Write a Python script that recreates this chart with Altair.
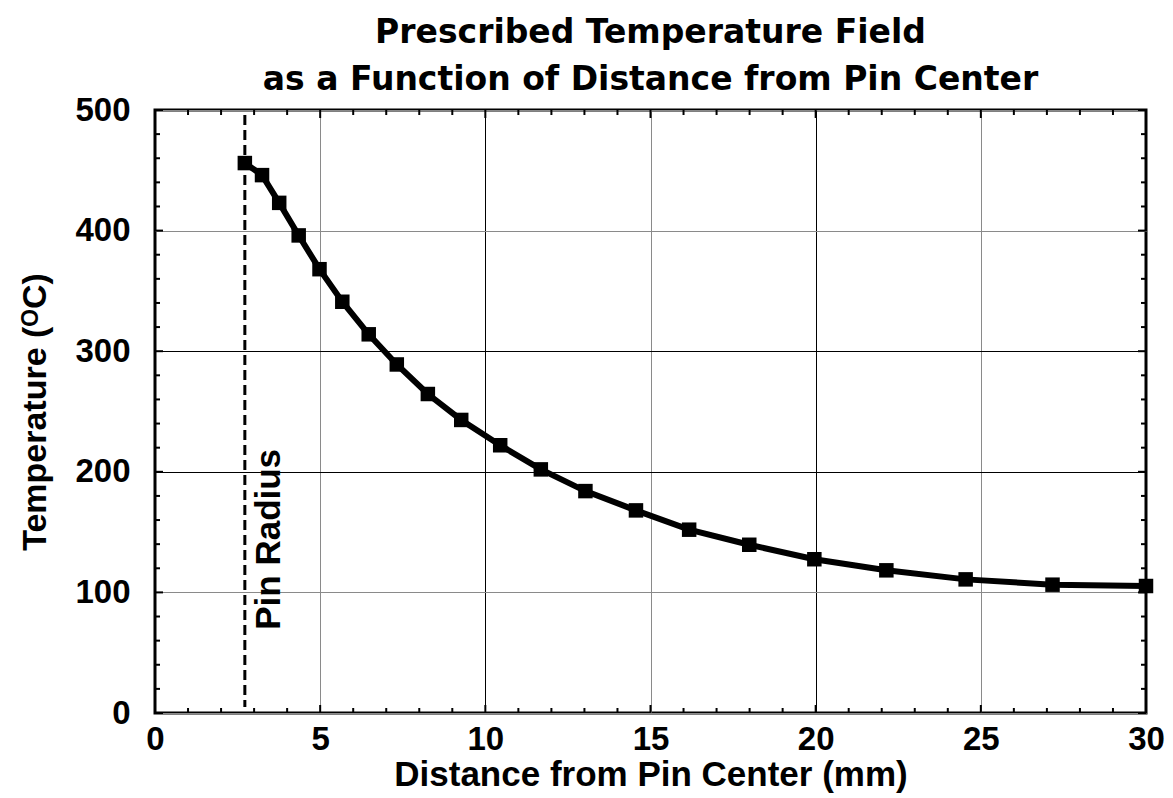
import altair as alt
import pandas as pd

# ---- data ----
distance_mm = [2.72, 3.24, 3.76, 4.35, 4.98, 5.67, 6.47, 7.32, 8.26, 9.27, 10.45,
               11.68, 13.03, 14.56, 16.17, 17.99, 19.96, 22.14, 24.54, 27.17, 30.0]
temperature_c = [456, 446, 423, 396, 368, 341, 314, 289, 264.5, 243, 222,
                 202, 184, 168, 152, 139.5, 127.5, 118.3, 110.8, 106.4, 105.3]
pin_radius_mm = [2.72]
pin_label_x = [3.45]
pin_label_y = [144]
pin_label_text = ["Pin Radius"]

x_major = [0, 5, 10, 15, 20, 25, 30]
y_major = [0, 100, 200, 300, 400, 500]
x_minor = [v for v in range(0, 31) if v % 5]
y_minor = [v for v in range(0, 501, 20) if v % 100]

W, H = 991, 603
FONT = "Liberation Sans"

xs = alt.Scale(domain=[0, 30], nice=False, zero=False)
ys = alt.Scale(domain=[0, 500], nice=False, zero=False)

x_grid_color = {"condition": {"test": "datum.value % 10 === 0", "value": "black"}, "value": "#8a8a8a"}
y_grid_color = {"condition": {"test": "datum.value === 200 || datum.value === 300", "value": "black"}, "value": "#8a8a8a"}

xaxis = alt.Axis(values=x_major, format="d", grid=True, gridColor=x_grid_color, gridWidth=1,
                 ticks=False, domain=False,
                 labelFont=FONT, labelFontWeight="bold", labelFontSize=33, labelColor="black",
                 labelPadding=10, labelFlush=False,
                 title="Distance from Pin Center (mm)", titleFont=FONT, titleFontSize=35,
                 titleFontWeight="bold", titleColor="black", titlePadding=1)
yaxis = alt.Axis(values=y_major, format="d", grid=True, gridColor=y_grid_color, gridWidth=1,
                 ticks=False, domain=False,
                 labelFont=FONT, labelFontWeight="bold", labelFontSize=33, labelColor="black",
                 labelPadding=25, labelFlush=False,
                 title="Temperature (ᴼC)", titleFont=FONT, titleFontSize=34,
                 titleFontWeight="bold", titleColor="black", titlePadding=22)

curve = pd.DataFrame({"d": distance_mm, "t": temperature_c})

line = alt.Chart(curve).mark_line(color="black", strokeWidth=6).encode(
    x=alt.X("d:Q", scale=xs, axis=xaxis),
    y=alt.Y("t:Q", scale=ys, axis=yaxis),
)
points = alt.Chart(curve).mark_square(size=210, color="black", opacity=1).encode(
    x=alt.X("d:Q", scale=xs),
    y=alt.Y("t:Q", scale=ys),
)

pin = alt.Chart(pd.DataFrame({"d": pin_radius_mm})).mark_rule(
    color="black", strokeWidth=3, strokeDash=[10, 5]
).encode(x=alt.X("d:Q", scale=xs), y=alt.value(5), y2=alt.value(H - 6))

pin_text = alt.Chart(pd.DataFrame({"d": pin_label_x, "t": pin_label_y, "label": pin_label_text})).mark_text(
    angle=270, align="center", baseline="middle", font=FONT, fontWeight="bold",
    fontSize=35, color="black"
).encode(x=alt.X("d:Q", scale=xs), y=alt.Y("t:Q", scale=ys), text="label:N")


def xticks(vals, length):
    df = pd.DataFrame({"d": vals})
    b = alt.Chart(df).mark_rule(color="black", strokeWidth=2).encode(
        x=alt.X("d:Q", scale=xs), y=alt.value(H), y2=alt.value(H - length))
    t = alt.Chart(df).mark_rule(color="black", strokeWidth=2).encode(
        x=alt.X("d:Q", scale=xs), y=alt.value(0), y2=alt.value(length))
    return [b, t]


def yticks(vals, length):
    df = pd.DataFrame({"t": vals})
    l = alt.Chart(df).mark_rule(color="black", strokeWidth=2).encode(
        y=alt.Y("t:Q", scale=ys), x=alt.value(0), x2=alt.value(length))
    r = alt.Chart(df).mark_rule(color="black", strokeWidth=2).encode(
        y=alt.Y("t:Q", scale=ys), x=alt.value(W), x2=alt.value(W - length))
    return [l, r]


layers = [line] + xticks(x_major, 8) + xticks(x_minor, 5) + yticks(y_major, 8) + yticks(y_minor, 5) + [pin, pin_text, points]

chart = alt.layer(*layers).properties(
    width=W, height=H,
    autosize="none",
    padding={"left": 155, "top": 110, "right": 27, "bottom": 85},
    background="white",
    title=alt.TitleParams(
        ["Prescribed Temperature Field", "as a Function of Distance from Pin Center"],
        font="DejaVu Sans", fontSize=33, fontWeight="bold", color="black",
        anchor="middle", lineHeight=47, offset=-3,
    ),
).configure_view(stroke="black", strokeWidth=3)

chart.save("out.html", embed_options={"renderer": "svg", "actions": False})
